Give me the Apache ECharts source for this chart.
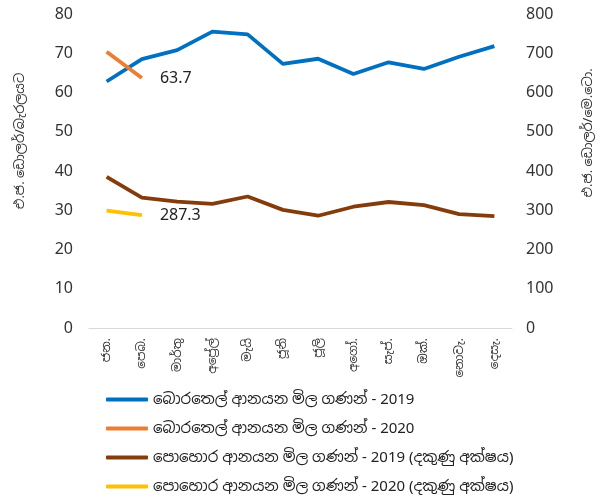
<!DOCTYPE html>
<html>
<head>
<meta charset="utf-8">
<script src="https://cdn.jsdelivr.net/npm/echarts@6/dist/echarts.min.js"></script>
<style>
  html, body { margin: 0; padding: 0; background: #fff; }
  #chart { width: 603px; height: 497px; }
</style>
</head>
<body>
<div id="chart"></div>
<script>
// මාස
const months = ['ජන.', 'පෙබ.', 'මාර්තු', 'අප්‍රේල්', 'මැයි', 'ජූනි', 'ජූලි', 'අගෝ.', 'සැප්.', 'ඔක්.', 'නොවැ.', 'දෙසැ.'];

// බොරතෙල් (එ.ජ. ඩොලර්/බැරලයට)
const oil2019 = [62.8, 68.5, 70.8, 75.5, 74.8, 67.3, 68.6, 64.7, 67.7, 66.0, 69.1, 71.8];
const oil2020 = [70.4, 63.7];

// පොහොර (එ.ජ. ඩොලර්/මෙ.ටො.) - දකුණු අක්ෂය
const fert2019 = [385, 332, 322, 316, 335, 301, 286, 309, 321, 313, 290, 285];
const fert2020 = [299, 287.3];

const leftTicks = [0, 80, 10];
const rightTicks = [0, 800, 100];

const seriesNames = [
  'බොරතෙල් ආනයන මිල ගණන් - 2019',
  'බොරතෙල් ආනයන මිල ගණන් - 2020',
  'පොහොර ආනයන මිල ගණන් - 2019 (දකුණු අක්ෂය)',
  'පොහොර ආනයන මිල ගණන් - 2020 (දකුණු අක්ෂය)'
];

const font = '"Noto Sans", "Noto Sans Sinhala", sans-serif';
const txt = '#333';

// අවසන් අගයට පමණක් ලේබලය
function lastLabel(arr) {
  return arr.map((v, i) => i === arr.length - 1
    ? { value: v, label: { show: true, position: 'right', distance: 18, formatter: '{c}', fontSize: 16, color: '#222', fontFamily: font } }
    : v);
}

let chart = echarts.init(document.getElementById('chart'));
chart.setOption({
  animation: false,
  grid: { left: 89, right: 88, top: 14, bottom: 169 },
  legend: {
    orient: 'vertical',
    left: 106,
    top: 392,
    padding: 0,
    itemWidth: 42,
    itemHeight: 4,
    itemGap: 14,
    icon: 'roundRect',
    textStyle: { fontSize: 15, color: '#222', fontFamily: font },
    data: seriesNames
  },
  xAxis: {
    type: 'category',
    data: months,
    boundaryGap: true,
    axisLine: { show: true, lineStyle: { color: '#d9d9d9', width: 1 } },
    axisTick: { show: false },
    axisLabel: { rotate: 90, fontSize: 12, color: txt, margin: 10, fontFamily: font, interval: 0 }
  },
  yAxis: [
    {
      type: 'value',
      min: leftTicks[0], max: leftTicks[1], interval: leftTicks[2],
      name: 'එ.ජ. ඩොලර්/බැරලයට',
      nameLocation: 'middle',
      nameGap: 62,
      nameTextStyle: { fontSize: 13, color: txt, fontFamily: font, padding: [0, 0, 0, 60] },
      splitLine: { show: false },
      axisLine: { show: false },
      axisTick: { show: false },
      axisLabel: { fontSize: 16, color: txt, fontFamily: font, margin: 16 }
    },
    {
      type: 'value',
      min: rightTicks[0], max: rightTicks[1], interval: rightTicks[2],
      name: 'එ.ජ. ඩොලර්/මෙ.ටො.',
      nameLocation: 'middle',
      nameGap: 70,
      nameTextStyle: { fontSize: 13, color: txt, fontFamily: font, padding: [0, 0, 0, 76] },
      splitLine: { show: false },
      axisLine: { show: false },
      axisTick: { show: false },
      axisLabel: { fontSize: 16, color: txt, fontFamily: font, margin: 14 }
    }
  ],
  series: [
    {
      name: seriesNames[0], type: 'line', yAxisIndex: 0, data: oil2019,
      symbol: 'none', lineStyle: { width: 3.8, color: '#0070C0' }, itemStyle: { color: '#0070C0' }
    },
    {
      name: seriesNames[1], type: 'line', yAxisIndex: 0, data: lastLabel(oil2020),
      symbol: 'circle', symbolSize: 0, showSymbol: true,
      lineStyle: { width: 3.8, color: '#ED7D31' }, itemStyle: { color: '#ED7D31' }
    },
    {
      name: seriesNames[2], type: 'line', yAxisIndex: 1, data: fert2019,
      symbol: 'none', lineStyle: { width: 3.8, color: '#843C0C' }, itemStyle: { color: '#843C0C' }
    },
    {
      name: seriesNames[3], type: 'line', yAxisIndex: 1, data: lastLabel(fert2020),
      symbol: 'circle', symbolSize: 0, showSymbol: true,
      lineStyle: { width: 3.8, color: '#FFC000' }, itemStyle: { color: '#FFC000' }
    }
  ]
});
</script>
</body>
</html>
